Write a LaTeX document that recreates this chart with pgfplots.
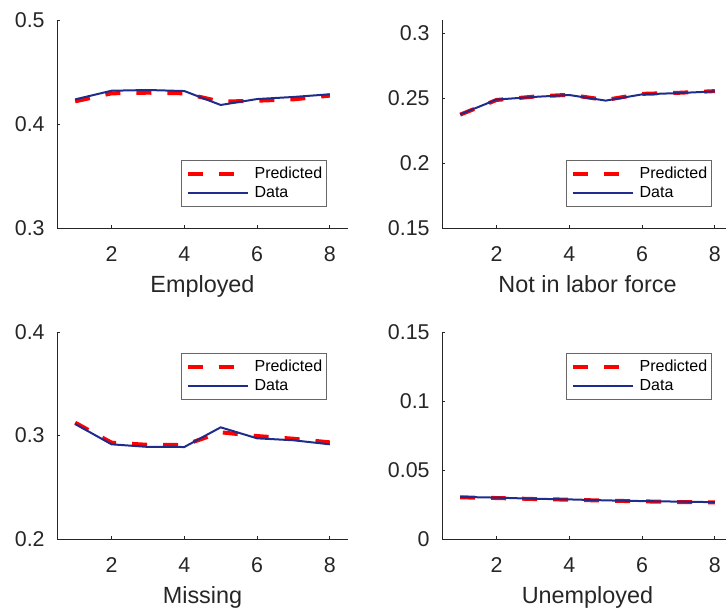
\documentclass[border=0pt]{standalone}
\usepackage{fontspec}
\setmainfont{Liberation Sans}
\usepackage{pgfplots}
\pgfplotsset{compat=1.18}
\definecolor{axc}{RGB}{38,38,38}
\definecolor{bluec}{RGB}{30,45,140}
\pgfplotsset{
  mystyle/.style={
    scale only axis, width=145.5pt,
    xmin=0.5, xmax=8.5, xtick={2,4,6,8},
    axis x line=bottom, axis y line=left,
    axis line style={-, draw=axc, line width=0.5pt},
    tick align=inside, major tick length=1.6pt,
    tick style={draw=axc, line width=0.5pt},
    /pgf/number format/assume math mode=true,
    /pgf/number format/fixed, /pgf/number format/precision=2,
    scaled y ticks=false,
    ticklabel style={font=\fontsize{10.7}{12}\selectfont, text=axc},
    xticklabel style={anchor=base, inner sep=0pt, yshift=-16.8pt},
    yticklabel style={anchor=east, inner sep=0pt, xshift=-6pt},
    xlabel style={at={(rel axis cs:0.5,0)}, anchor=base, yshift=-32.3pt, inner sep=0pt,
      font=\fontsize{11.7}{13}\selectfont, text=axc},
    legend cell align=left,
    legend style={draw=axc!70, line width=0.4pt, fill=white,
      font=\fontsize{8}{9}\selectfont, text=black,
      inner xsep=2.2pt, inner ysep=3pt, row sep=2pt, column sep=2.5pt,
      nodes={inner sep=0pt, text height=6pt, text depth=1.5pt}},
    legend image code/.code={\draw[#1] (0pt,0pt) -- (30pt,0pt);},
    legend se/.style={legend style={at={(1,0)}, anchor=south east, xshift=-10.5pt, yshift=10.5pt}},
    legend ne/.style={legend style={at={(1,1)}, anchor=north east, xshift=-10.5pt, yshift=-10.5pt}},
  },
  predstyle/.style={red, line width=2pt, dash pattern=on 7.5pt off 8pt},
  datastyle/.style={bluec, line width=1pt},
}
\begin{document}
\begin{tikzpicture}
\useasboundingbox (0,0) rectangle (363pt,-306pt);
% Top-left: Employed
\begin{axis}[mystyle, legend se, height=104pt, at={(28.5pt,-114pt)}, anchor=south west,
  ymin=0.3, ymax=0.5, ytick={0.3,0.4,0.5}, xlabel={Employed}]
\addplot[predstyle] coordinates {(1,0.4218) (2,0.4295) (3,0.4301) (4,0.4295) (5,0.4215) (6,0.4224) (7,0.4237) (8,0.4273)};
\addlegendentry{Predicted}
\addplot[datastyle] coordinates {(1,0.4237) (2,0.4320) (3,0.4327) (4,0.4317) (5,0.4183) (6,0.4240) (7,0.4260) (8,0.4286)};
\addlegendentry{Data}
\end{axis}
% Top-right: Not in labor force
\begin{axis}[mystyle, legend se, height=104pt, at={(221pt,-114pt)}, anchor=south west,
  ymin=0.15, ymax=0.31, ytick={0.15,0.2,0.25,0.3}, xlabel={Not in labor force}]
\addplot[predstyle] coordinates {(1,0.2372) (2,0.2485) (3,0.2510) (4,0.2525) (5,0.2485) (6,0.2532) (7,0.2540) (8,0.2553)};
\addlegendentry{Predicted}
\addplot[datastyle] coordinates {(1,0.2374) (2,0.2488) (3,0.2508) (4,0.2523) (5,0.2480) (6,0.2528) (7,0.2538) (8,0.2551)};
\addlegendentry{Data}
\end{axis}
% Bottom-left: Missing
\begin{axis}[mystyle, legend ne, height=103.5pt, at={(28.5pt,-269.5pt)}, anchor=south west,
  ymin=0.2, ymax=0.4, ytick={0.2,0.3,0.4}, xlabel={Missing}]
\addplot[predstyle] coordinates {(1,0.3124) (2,0.2931) (3,0.2910) (4,0.2908) (5,0.3031) (6,0.2995) (7,0.2969) (8,0.2934)};
\addlegendentry{Predicted}
\addplot[datastyle] coordinates {(1,0.3111) (2,0.2915) (3,0.2890) (4,0.2889) (5,0.3079) (6,0.2973) (7,0.2954) (8,0.2915)};
\addlegendentry{Data}
\end{axis}
% Bottom-right: Unemployed
\begin{axis}[mystyle, legend ne, height=103.5pt, at={(221pt,-269.5pt)}, anchor=south west,
  ymin=0, ymax=0.15, ytick={0,0.05,0.1,0.15}, xlabel={Unemployed}]
\addplot[predstyle] coordinates {(1,0.0302) (2,0.0297) (3,0.0290) (4,0.0285) (5,0.0278) (6,0.0273) (7,0.0268) (8,0.0265)};
\addlegendentry{Predicted}
\addplot[datastyle] coordinates {(1,0.0305) (2,0.0300) (3,0.0292) (4,0.0287) (5,0.0280) (6,0.0275) (7,0.0271) (8,0.0267)};
\addlegendentry{Data}
\end{axis}
\end{tikzpicture}
\end{document}
